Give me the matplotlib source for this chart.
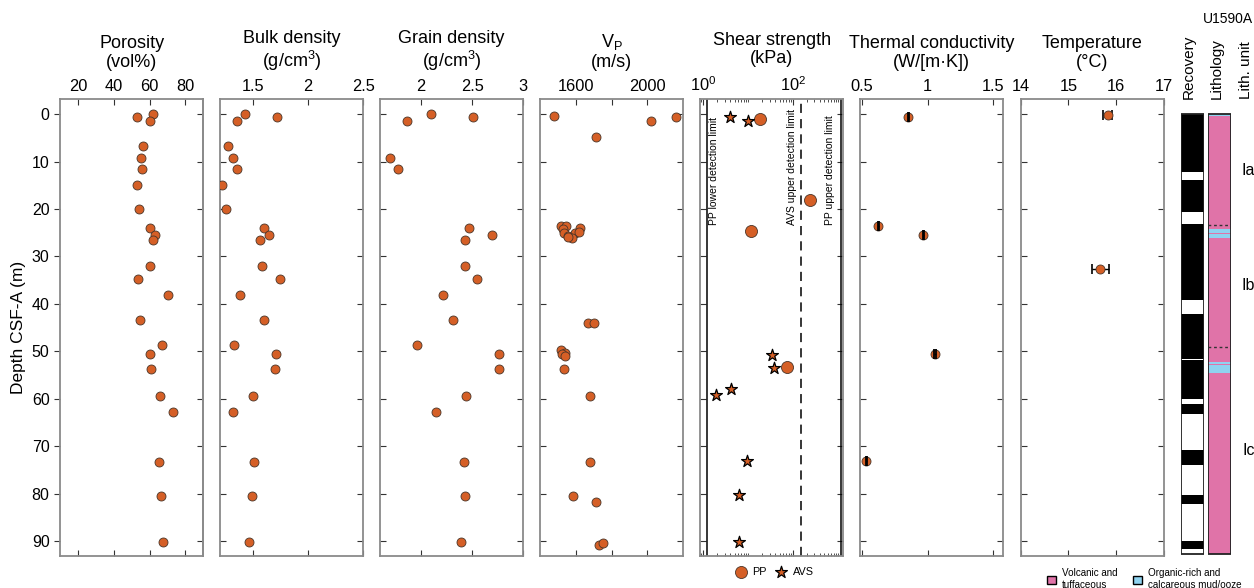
import numpy as np
import matplotlib
matplotlib.use('Agg')
import matplotlib.pyplot as plt
from matplotlib.patches import Patch
from matplotlib.ticker import LogLocator, NullFormatter

plt.rcParams['font.family'] = ['Liberation Sans', 'DejaVu Sans']
plt.rcParams['mathtext.fontset'] = 'custom'
plt.rcParams['mathtext.rm'] = 'Liberation Sans'
plt.rcParams['mathtext.it'] = 'Liberation Sans:italic'

nan = np.nan

# MAD samples (depth m CSF-A)
mad_depth = [0, 0.7, 1.5, 6.7, 9.3, 11.6, 14.9, 20.1, 23.9, 25.5, 26.5, 32.1, 34.7, 38.1, 43.3,
             48.7, 50.5, 53.6, 59.3, 62.8, 73.2, 80.4, 90.2]
porosity = [61.7, 53.2, 60.2, 56.1, 55.0, 56.0, 52.8, 54.3, 60.2, 62.8, 61.7, 60.0, 53.3, 70.1, 54.7,
            66.9, 60.2, 60.6, 66.0, 73.3, 65.1, 66.6, 67.3]
bulk_density = [1.43, 1.72, 1.35, 1.27, 1.32, 1.35, 1.22, 1.25, 1.60, 1.64, 1.56, 1.58, 1.74, 1.38, 1.60,
                1.33, 1.71, 1.70, 1.50, 1.32, 1.51, 1.49, 1.46]
grain_density = [2.10, 2.51, 1.86, nan, 1.70, 1.78, nan, nan, 2.47, 2.69, 2.43, 2.43, 2.55, 2.22, 2.31,
                 1.96, 2.76, 2.76, 2.44, 2.15, 2.42, 2.43, 2.39]

# P-wave velocity
vp_depth = [0.4, 1.4, 0.6, 4.8, 23.6, 23.6, 24.3, 23.9, 25.1, 25.1, 24.9, 25.6, 26.0, 25.8,
            44.1, 43.9, 49.7, 50.4, 50.6, 50.9, 53.6, 59.3, 73.2, 80.4, 81.6, 90.8, 90.3]
vp = [1480, 2022, 2161, 1711, 1518, 1544, 1531, 1622, 1535, 1596, 1615, 1559, 1578, 1554,
      1667, 1700, 1517, 1541, 1522, 1541, 1533, 1680, 1678, 1583, 1711, 1728, 1750]

# shear strength (kPa)
pp_depth = [1.0, 18.2, 24.7, 53.3]
pp = [18, 240, 11.8, 74]
avs_depth = [0.6, 1.4, 50.8, 53.5, 57.9, 59.2, 73.0, 80.3, 90.2]
avs = [4.0, 9.9, 34, 37, 4.2, 1.9, 9.4, 6.1, 6.2]
pp_lower_limit = 1.2
avs_upper_limit = 152
pp_upper_limit = 1180

# thermal conductivity
tc_depth = [0.6, 23.5, 25.4, 50.5, 73.0]
tc = [0.852, 0.624, 0.966, 1.057, 0.533]
tc_err = [0.004, 0.004, 0.004, 0.004, 0.004]

# formation temperature
temp_depth = [0.2, 32.6]
temp = [15.82, 15.67]
temp_err = [0.1, 0.17]

# core recovery (recovered intervals, top/bottom m)
rec_top = [0, 13.9, 23.3, 42.3, 51.9, 61.3, 70.9, 80.4, 90.1]
rec_bot = [12.2, 20.8, 39.3, 51.7, 60.1, 63.4, 74.1, 82.3, 91.8]
hole_bottom = 93.0

# lithology
mud_top = [0, 24.4, 25.3, 52.4, 53.1]
mud_bot = [0.4, 25.1, 26.3, 52.9, 54.7]
unit_bounds = [23.5, 49.2]
unit_names = ['Ia', 'Ib', 'Ic']
unit_label_depth = [12.0, 36.2, 71.1]

orange = '#D55F26'
edge = '#4a3528'
pink = '#E073A8'
blue = '#8FD3F0'
spine_c = '#8a8a8a'

W, H = 1254, 588
fig = plt.figure(figsize=(W / 100, H / 100), dpi=100)


def px_axes(x0, x1, y0=99.3, y1=555.7):
    return fig.add_axes([x0 / W, 1 - y1 / H, (x1 - x0) / W, (y1 - y0) / H])


def style(ax, title):
    ax.set_ylim(93.0, -3.1)
    ax.set_yticks(range(0, 100, 10))
    ax.xaxis.tick_top()
    ax.tick_params(which='both', direction='in', top=True, bottom=True, left=True, right=True,
                   labelbottom=False, labeltop=True, labelleft=False, length=4,
                   color='#333333', labelsize=11.8, pad=3.5)
    ax.tick_params(which='minor', length=2.5)
    for s in ax.spines.values():
        s.set_color(spine_c)
        s.set_linewidth(1.3)
    ax.set_title(title, fontsize=13, pad=9, linespacing=1.12)


def dots(ax, x, y):
    ax.scatter(x, y, s=42, c=orange, edgecolors=edge, linewidths=0.6, zorder=3)


lefts = [60, 220, 380, 540, 700, 860, 1020.7]
wd = 143.3
axs = [px_axes(l, l + wd) for l in lefts]

# porosity
ax = axs[0]
style(ax, 'Porosity\n(vol%)')
dots(ax, porosity, mad_depth)
ax.set_xlim(10, 90)
ax.set_xticks([20, 40, 60, 80])
ax.tick_params(axis='y', direction='out', right=False, labelleft=True, labelsize=11.5)
sec = ax.secondary_yaxis('right')
sec.set_yticks(range(0, 100, 10))
sec.tick_params(direction='in', labelright=False, length=4, color='#333333')
sec.spines['right'].set_color(spine_c)
sec.spines['right'].set_linewidth(1.3)
ax.set_ylabel('Depth CSF-A (m)', fontsize=12.5, labelpad=4)

# bulk density
ax = axs[1]
style(ax, 'Bulk density\n(g/cm$^3$)')
dots(ax, bulk_density, mad_depth)
ax.set_xlim(1.2, 2.5)
ax.set_xticks([1.5, 2, 2.5])
ax.set_xticklabels(['1.5', '2', '2.5'])

# grain density
ax = axs[2]
style(ax, 'Grain density\n(g/cm$^3$)')
dots(ax, grain_density, mad_depth)
ax.set_xlim(1.6, 3.0)
ax.set_xticks([2, 2.5, 3])
ax.set_xticklabels(['2', '2.5', '3'])

# P-wave velocity
ax = axs[3]
style(ax, 'V$_\\mathrm{P}$\n(m/s)')
dots(ax, vp, vp_depth)
ax.set_xlim(1400, 2200)
ax.set_xticks([1600, 1800, 2000])
ax.set_xticklabels(['1600', '', '2000'])

# shear strength
ax = axs[4]
ax.set_xscale('log')
style(ax, 'Shear strength\n(kPa)')
ax.set_xlim(0.84, 1320)
ax.set_xticks([1, 100])
ax.set_xticklabels(['$10^0$', '$10^2$'])
ax.xaxis.set_minor_locator(LogLocator(base=10, subs=np.arange(1, 10), numticks=20))
ax.xaxis.set_minor_formatter(NullFormatter())
ax.axvline(pp_lower_limit, color='k', lw=1.1)
ax.axvline(avs_upper_limit, color='k', lw=1.1, ls=(0, (6, 4)))
ax.axvline(pp_upper_limit, color='k', lw=1.1)
ax.text(1.72, 23.3, 'PP lower detection limit', rotation=90, ha='center', va='bottom', fontsize=7.5)
ax.text(97, 23.3, 'AVS upper detection limit', rotation=90, ha='center', va='bottom', fontsize=7.5)
ax.text(680, 23.3, 'PP upper detection limit', rotation=90, ha='center', va='bottom', fontsize=7.5)
ax.scatter(pp, pp_depth, s=75, c=orange, edgecolors=edge, linewidths=0.6, zorder=3, label='PP')
ax.scatter(avs, avs_depth, s=80, marker='*', c=orange, edgecolors='k', linewidths=0.9, zorder=3, label='AVS')
ax.legend(loc='upper center', bbox_to_anchor=(0.5, -0.012), ncol=2, frameon=False, fontsize=7.8,
          handletextpad=0.05, columnspacing=0.35, borderaxespad=0.1)

# thermal conductivity
ax = axs[5]
style(ax, 'Thermal conductivity\n(W/[m·K])')
dots(ax, tc, tc_depth)
ax.errorbar(tc, tc_depth, xerr=tc_err, fmt='none', ecolor='k', elinewidth=1, capsize=3.5,
            capthick=1.3, zorder=4)
ax.set_xlim(0.487, 1.576)
ax.set_xticks([0.5, 1, 1.5])
ax.set_xticklabels(['0.5', '1', '1.5'])

# temperature
ax = axs[6]
style(ax, 'Temperature\n(°C)')
dots(ax, temp, temp_depth)
ax.errorbar(temp, temp_depth, xerr=temp_err, fmt='none', ecolor='k', elinewidth=1, capsize=3.5,
            capthick=1.2, zorder=2)
ax.set_xlim(14, 17)
ax.set_xticks([14, 15, 16, 17])

# recovery column
rax = px_axes(1181, 1204)
rax.set_xlim(0, 1)
rax.set_ylim(93.3, -3.1)
rax.axis('off')
rax.bar(0.5, np.subtract(rec_bot, rec_top), bottom=rec_top, width=1, color='black', lw=0)
rax.bar(0.5, hole_bottom, bottom=0, width=1, facecolor='none', edgecolor='#222222', lw=1.3)

# lithology column
lax = px_axes(1208, 1231)
lax.set_xlim(0, 1)
lax.set_ylim(93.3, -3.1)
lax.axis('off')
lax.bar(0.5, hole_bottom, bottom=0, width=1, color=pink, lw=0)
lax.bar(0.5, np.subtract(mud_bot, mud_top), bottom=mud_top, width=1, color=blue, lw=0)
lax.hlines(unit_bounds, 0, 1, colors='#333333', linestyles=(0, (2, 2)), lw=1)
lax.bar(0.5, hole_bottom, bottom=0, width=1, facecolor='none', edgecolor='#222222', lw=1.3)
for name, d in zip(unit_names, unit_label_depth):
    lax.text(1.75, d, name, ha='center', va='center', fontsize=11.5, clip_on=False)

# column headers
fig.text(1228 / W, 1 - 19 / H, 'U1590A', ha='center', va='center', fontsize=10)
for x, lab in zip([1189, 1217, 1246], ['Recovery', 'Lithology', 'Lith. unit']):
    fig.text(x / W, 1 - 99 / H, lab, rotation=90, ha='center', va='bottom', fontsize=11)

fig.legend(handles=[Patch(facecolor=pink, edgecolor='k', label='Volcanic and\ntuffaceous'),
                    Patch(facecolor=blue, edgecolor='k', label='Organic-rich and\ncalcareous mud/ooze')],
           loc='center left', bbox_to_anchor=(1043 / W, 1 - 579 / H), ncol=2, frameon=False,
           fontsize=7.1, handlelength=0.9, handleheight=0.9, handletextpad=0.6, columnspacing=1.6,
           borderaxespad=0)

fig.savefig('out.png', dpi=100)
